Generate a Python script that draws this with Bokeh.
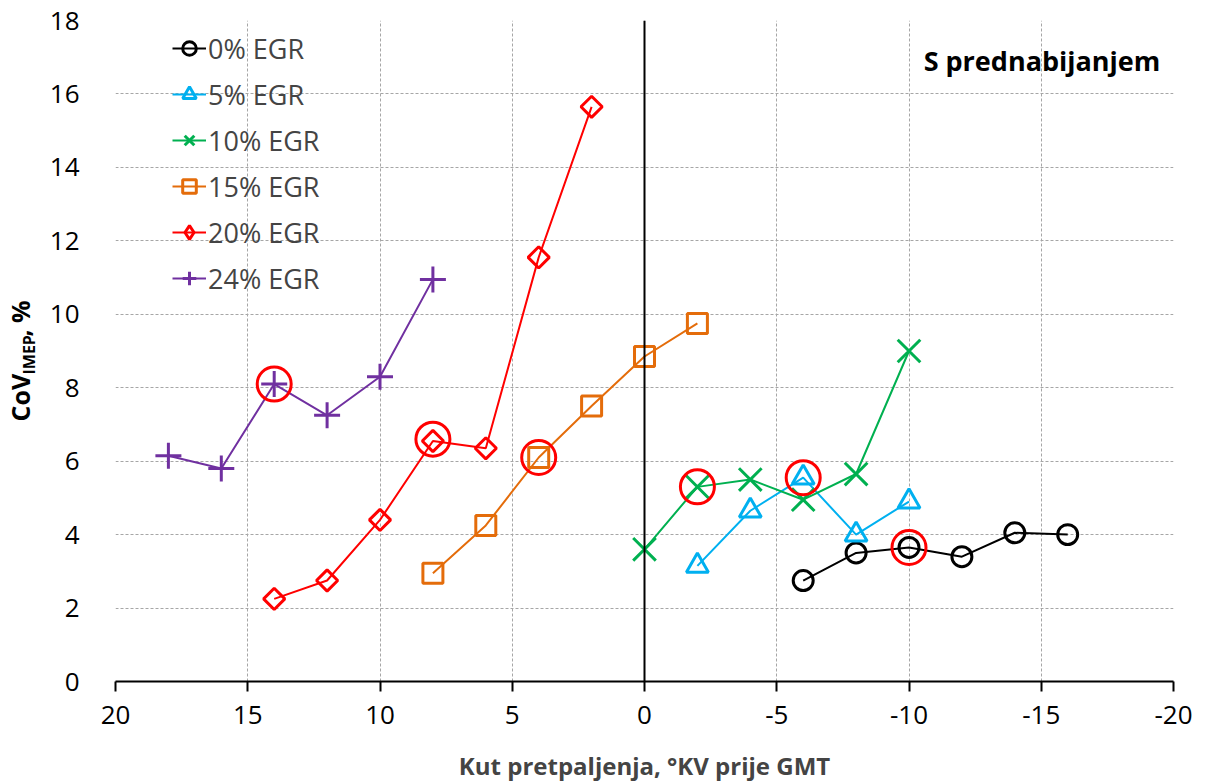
import numpy as np
from bokeh.plotting import figure
from bokeh.layouts import row
from bokeh.models import Range1d, FixedTicker, Span, Label, Legend, ColumnDataSource
from bokeh.core.properties import value
from bokeh.embed import file_html
from bokeh.resources import INLINE

# ---- data ----
x_0 = [-6, -8, -10, -12, -14, -16]
y_0 = [2.75, 3.5, 3.65, 3.4, 4.05, 4.0]
x_5 = [-2, -4, -6, -8, -10]
y_5 = [3.15, 4.65, 5.55, 4.0, 4.9]
x_10 = [0, -2, -4, -6, -8, -10]
y_10 = [3.6, 5.3, 5.5, 4.95, 5.65, 9.0]
x_15 = [8, 6, 4, 2, 0, -2]
y_15 = [2.95, 4.25, 6.1, 7.5, 8.85, 9.75]
x_20 = [14, 12, 10, 8, 6, 4, 2]
y_20 = [2.25, 2.75, 4.4, 6.55, 6.35, 11.55, 15.65]
x_24 = [18, 16, 14, 12, 10, 8]
y_24 = [6.15, 5.8, 8.1, 7.25, 8.3, 10.95]
hl_x = [14, 8, 4, -2, -6, -10]
hl_y = [8.1, 6.6, 6.1, 5.3, 5.55, 3.65]
series_labels = ["0% EGR", "5% EGR", "10% EGR", "15% EGR", "20% EGR", "24% EGR"]
x_ticks = [20, 15, 10, 5, 0, -5, -10, -15, -20]
y_ticks = [0, 2, 4, 6, 8, 10, 12, 14, 16, 18]
y_label_parts = ["CoV", "IMEP", ", %"]

FONT = "Open Sans"
LEFT_W = 45

p = figure(frame_width=1058, frame_height=661, output_backend="svg", toolbar_location=None,
           x_range=Range1d(20, -20), y_range=Range1d(0, 18),
           min_border_left=115 - LEFT_W, min_border_right=20, min_border_top=20, min_border_bottom=90)
p.outline_line_color = None
p.background_fill_color = "white"

for g in (p.xgrid, p.ygrid):
    g.grid_line_color = "#a6a6a6"
    g.grid_line_dash = "3 2"
    g.grid_line_width = 1
p.xaxis.ticker = FixedTicker(ticks=x_ticks)
p.yaxis.ticker = FixedTicker(ticks=y_ticks)
p.xgrid.ticker = FixedTicker(ticks=x_ticks)
p.ygrid.ticker = FixedTicker(ticks=y_ticks)

xa = p.xaxis[0]
xa.axis_line_width = 2
xa.axis_line_color = "black"
xa.major_tick_out = 10
xa.major_tick_in = 0
xa.major_tick_line_width = 2
xa.minor_tick_line_color = None
xa.major_label_text_font = FONT
xa.major_label_text_font_size = "26px"
xa.major_label_text_color = "black"
xa.major_label_standoff = 14
xa.major_label_overrides = {t: str(t) for t in x_ticks}
xa.axis_label = "Kut pretpaljenja, °KV prije GMT"
xa.axis_label_text_font = FONT
xa.axis_label_text_font_style = "bold"
xa.axis_label_text_font_size = "24px"
xa.axis_label_standoff = 22

ya = p.yaxis[0]
ya.axis_line_color = None
ya.major_tick_line_color = None
ya.minor_tick_line_color = None
ya.major_label_text_font = FONT
ya.major_label_text_font_size = "26px"
ya.major_label_text_color = "black"
ya.major_label_standoff = 30

p.add_layout(Span(location=0, dimension="height", line_color="black", line_width=2))

colors = ["black", "#00B0F0", "#00B050", "#E46C0A", "#FF0000", "#7030A0"]
xs = [x_0, x_5, x_10, x_15, x_20, x_24]
ys = [y_0, y_5, y_10, y_15, y_20, y_24]
markers = ["circle", "triangle", "x", "square", "square", "cross"]
sizes = [20, 22, 32, 20, 15, 26]
angles = [0, 0, 0, 0, np.pi / 4, 0]

items = []
for i in range(6):
    r1 = p.line(xs[i], ys[i], line_color=colors[i], line_width=2)
    r2 = p.scatter(xs[i], ys[i], marker=markers[i], size=sizes[i], angle=angles[i],
                   line_color=colors[i], line_width=3, fill_color=None)
    if i == 4:
        # legend-only diamond (rotated squares are not rotated in the legend); NaN -> not drawn in plot
        r3 = p.scatter(x=[float("nan")], y=[float("nan")], marker="diamond", size=24,
                       line_color=colors[i], line_width=3, fill_color=None)
        items.append((series_labels[i], [r1, r3]))
    else:
        items.append((series_labels[i], [r1, r2]))

p.scatter(hl_x, hl_y, marker="circle", size=34, line_color="#FF0000", line_width=3, fill_color=None)

legend = Legend(items=items, location=(57, 380), padding=0, margin=0, spacing=0,
                label_height=46, glyph_height=46, glyph_width=34, label_standoff=2,
                label_text_font=FONT, label_text_font_size="27px",
                border_line_color=None, background_fill_alpha=0)
p.add_layout(legend)

p.add_layout(Label(x=-19.5, y=16.9, text="S prednabijanjem", text_align="right",
                   text_baseline="middle", text_font=FONT, text_font_style="bold",
                   text_font_size="27px", text_color="black"))

# ---- left strip holding the y-axis title (with subscript) ----
H = 681
q = figure(frame_width=LEFT_W, frame_height=H, output_backend="svg", toolbar_location=None,
           x_range=Range1d(0, LEFT_W), y_range=Range1d(0, H),
           x_axis_location=None, y_axis_location=None,
           min_border_left=0, min_border_right=0, min_border_top=0, min_border_bottom=0)
q.outline_line_color = None
q.xgrid.visible = False
q.ygrid.visible = False
src = ColumnDataSource(dict(x=[19, 28, 19], y=[280, 327, 365], t=y_label_parts,
                            fs=["25px", "16px", "25px"]))
q.text(x="x", y="y", text="t", source=src, angle=np.pi / 2, text_align="left",
       text_baseline="middle", text_font=value(FONT), text_font_style="bold",
       text_font_size="fs", text_color="black")

layout = row(q, p)
open("out.html", "w").write(file_html(layout, INLINE))
